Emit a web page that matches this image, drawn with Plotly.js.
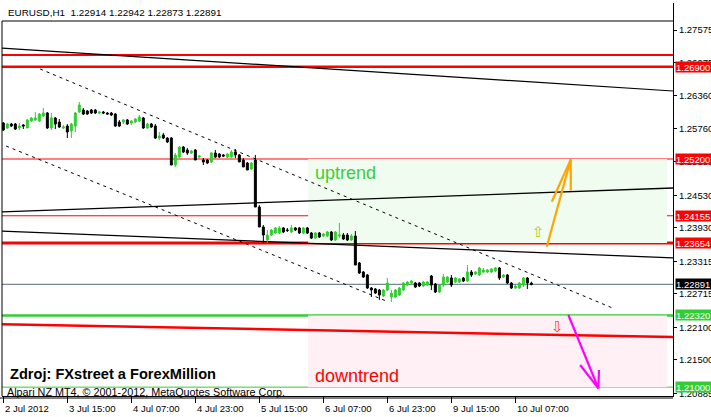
<!DOCTYPE html>
<html><head><meta charset="utf-8">
<script src="https://cdn.plot.ly/plotly-3.0.1.min.js"></script>
<style>html,body{margin:0;padding:0;background:#fff;}#chart{width:711px;height:417px;}</style>
</head><body><div id="chart"></div>
<script>
// ---- data (EURUSD H1) ----
const barIndex = Array.from({length:133}, (_, i) => i);
const open = [
1.25863,1.25771,1.25844,1.25844,1.25771,1.25826,1.25771,1.25899,1.25918,1.25899,
1.25991,1.26047,1.25771,1.25955,1.25881,1.25771,1.25807,1.25715,1.25807,1.26065,
1.26102,1.26084,1.26102,1.26102,1.26047,1.26065,1.26047,1.26047,1.26028,1.25881,
1.25881,1.25918,1.25863,1.25881,1.25899,1.25955,1.25771,1.25844,1.25807,1.25586,
1.25642,1.25586,1.25586,1.25089,1.25237,1.25421,1.25366,1.25310,1.25366,1.25237,
1.25181,1.25181,1.25145,1.25310,1.25292,1.25274,1.25237,1.25237,1.25329,1.25274,
1.25181,1.25126,1.25016,1.25181,1.24316,1.23948,1.23709,1.23801,1.23838,1.23838,
1.23930,1.23893,1.23856,1.23930,1.23930,1.23838,1.23930,1.23838,1.23745,1.23838,
1.23782,1.23782,1.23856,1.23709,1.23782,1.23801,1.23801,1.23709,1.23782,1.23285,
1.23120,1.23064,1.22825,1.22807,1.22788,1.22678,1.22788,1.22659,1.22659,1.22696,
1.22788,1.22880,1.22917,1.22917,1.22917,1.22862,1.22880,1.23046,1.22899,1.22751,
1.22880,1.22935,1.23009,1.22935,1.22935,1.23009,1.22954,1.23120,1.23083,1.23064,
1.23120,1.23120,1.23120,1.23138,1.23193,1.23027,1.23064,1.22917,1.22825,1.22825,
1.22880,1.23009,1.22914];
const high = [
1.25881,1.25863,1.25863,1.25863,1.25863,1.25844,1.25936,1.25973,1.26065,1.26047,
1.26139,1.26065,1.26047,1.25973,1.25936,1.25826,1.25844,1.25863,1.26065,1.26249,
1.26139,1.26102,1.26120,1.26120,1.26084,1.26084,1.26065,1.26065,1.26047,1.25918,
1.25936,1.25936,1.25918,1.25955,1.26010,1.25973,1.25863,1.25863,1.25844,1.25697,
1.25679,1.25605,1.25605,1.25310,1.25439,1.25439,1.25402,1.25366,1.25384,1.25274,
1.25218,1.25200,1.25329,1.25366,1.25310,1.25292,1.25310,1.25366,1.25384,1.25292,
1.25218,1.25145,1.25145,1.25274,1.24353,1.23985,1.23893,1.23911,1.23948,1.23966,
1.23948,1.23930,1.23985,1.23948,1.23948,1.23948,1.23948,1.23856,1.23856,1.23856,
1.23838,1.23874,1.23874,1.23874,1.24022,1.23838,1.23838,1.23819,1.23874,1.23304,
1.23138,1.23083,1.22843,1.22825,1.22807,1.22807,1.23009,1.22788,1.22807,1.22843,
1.22935,1.22954,1.22972,1.22935,1.22935,1.22954,1.22954,1.23064,1.22917,1.22899,
1.23083,1.23046,1.23064,1.23027,1.23009,1.23027,1.23248,1.23156,1.23138,1.23212,
1.23193,1.23175,1.23193,1.23212,1.23212,1.23083,1.23083,1.22935,1.22880,1.22935,
1.23027,1.23027,1.22942];
const low = [
1.25715,1.25752,1.25789,1.25734,1.25734,1.25752,1.25771,1.25881,1.25899,1.25881,
1.25973,1.25752,1.25734,1.25752,1.25771,1.25752,1.25586,1.25586,1.25697,1.26047,
1.26010,1.26010,1.26028,1.26028,1.26028,1.26028,1.26010,1.25991,1.25789,1.25789,
1.25844,1.25826,1.25826,1.25863,1.25881,1.25752,1.25752,1.25771,1.25568,1.25550,
1.25568,1.25494,1.25089,1.25053,1.25218,1.25310,1.25274,1.25292,1.25181,1.25218,
1.25089,1.25108,1.25126,1.25218,1.25218,1.25237,1.25218,1.25218,1.25218,1.25145,
1.25053,1.24997,1.24997,1.24316,1.23948,1.23653,1.23653,1.23782,1.23819,1.23819,
1.23838,1.23856,1.23838,1.23874,1.23819,1.23819,1.23819,1.23727,1.23727,1.23745,
1.23764,1.23764,1.23690,1.23690,1.23745,1.23709,1.23690,1.23690,1.23248,1.23083,
1.23009,1.22807,1.22659,1.22715,1.22604,1.22659,1.22770,1.22567,1.22641,1.22678,
1.22770,1.22862,1.22899,1.22825,1.22843,1.22843,1.22862,1.22788,1.22733,1.22733,
1.22843,1.22917,1.22843,1.22917,1.22917,1.22935,1.22935,1.23027,1.23064,1.23046,
1.23101,1.23101,1.23101,1.23120,1.22972,1.23009,1.22899,1.22807,1.22807,1.22807,
1.22843,1.22807,1.22873];
const close = [
1.25734,1.25844,1.25807,1.25752,1.25807,1.25807,1.25918,1.25955,1.25955,1.26028,
1.26047,1.25771,1.25955,1.25844,1.25789,1.25789,1.25697,1.25844,1.26047,1.26194,
1.26028,1.26028,1.26047,1.26047,1.26065,1.26047,1.26028,1.26010,1.25807,1.25807,
1.25918,1.25844,1.25899,1.25936,1.25973,1.25771,1.25844,1.25789,1.25586,1.25623,
1.25586,1.25513,1.25089,1.25274,1.25421,1.25329,1.25310,1.25347,1.25181,1.25255,
1.25145,1.25126,1.25310,1.25237,1.25237,1.25255,1.25292,1.25329,1.25274,1.25145,
1.25053,1.24997,1.25126,1.24316,1.23948,1.23801,1.23801,1.23893,1.23930,1.23930,
1.23856,1.23885,1.23930,1.23893,1.23838,1.23930,1.23838,1.23745,1.23838,1.23764,
1.23819,1.23856,1.23709,1.23856,1.23801,1.23727,1.23709,1.23782,1.23248,1.23101,
1.23027,1.22825,1.22788,1.22733,1.22696,1.22788,1.22917,1.22733,1.22788,1.22825,
1.22917,1.22935,1.22954,1.22843,1.22862,1.22935,1.22935,1.22880,1.22751,1.22880,
1.23027,1.23027,1.22880,1.23009,1.22991,1.22954,1.23120,1.23064,1.23120,1.23193,
1.23156,1.23156,1.23175,1.23193,1.23009,1.23064,1.22917,1.22825,1.22862,1.22917,
1.23009,1.22917,1.22891];

const timeTickBars = [0,16,32,48,64,80,96,112,128];
const timeTickLabels = ['2 Jul 2012','3 Jul 15:00','4 Jul 07:00','4 Jul 23:00','5 Jul 15:00','6 Jul 07:00','6 Jul 23:00','9 Jul 15:00','10 Jul 07:00'];
const priceTicks = [1.27575,1.26975,1.26360,1.25760,1.25155,1.24530,1.23930,1.23315,1.22715,1.22100,1.21500,1.20885];
const priceTickLabels = ['1.27575','1.26975','1.26360','1.25760','1.25155','1.24530','1.23930','1.23315','1.22715','1.22100','1.21500','1.20885'];
const levelPrices = [1.26900,1.25200,1.24155,1.23654,1.22891,1.22320,1.21000];
const levelLabels = ['1.26900','1.25200','1.24155','1.23654','1.22891','1.22320','1.21000'];
const levelColors = ['#ff0000','#ff0000','#ff0000','#ff0000','#000000','#32cd32','#32cd32'];
const levelLineColors = ['#ff0000','#ff0000','#ff0000','#ff0000','#778899','#32cd32','#32cd32'];
const levelLineWidths = [2.5,1,1,3,1.2,2.5,1];
const quoteTitle = 'EURUSD,H1  1.22914 1.22942 1.22873 1.22891';

// ---- layout helpers (pixel geometry of plot area) ----
const PL = 2, PR = 673, PT = 3, PB = 396;
const W = PR - PL, H = PB - PT;
const px = x => (x - PL) / W;
const py = y => (PB - y) / H;
const XR = [-0.33, 167.4];
const YR = [1.20837, 1.28072];

const shapes = [];
const annotations = [];

// zones
shapes.push({type:'rect', xref:'x', yref:'y', x0:76.2, x1:165.9, y0:1.23654, y1:1.25200, fillcolor:'#f0fcf0', line:{width:0}, layer:'below'});
shapes.push({type:'rect', xref:'x', yref:'y', x0:76.2, x1:165.9, y0:1.21000, y1:1.22320, fillcolor:'#fff0f5', line:{width:0}, layer:'below'});

// horizontal levels
levelPrices.forEach((p, i) => {
  shapes.push({type:'line', xref:'paper', yref:'y', x0:0, x1:1, y0:p, y1:p, line:{color:levelLineColors[i], width:levelLineWidths[i]}, layer:'below'});
});
// extra red level near top
shapes.push({type:'line', xref:'paper', yref:'y', x0:0, x1:1, y0:1.27114, y1:1.27114, line:{color:'#ff0000', width:2}, layer:'below'});

// trend lines
const tl = (x0,y0,x1,y1,color,width,dash) => shapes.push({type:'line', xref:'x', yref:'y', x0, y0, x1, y1, line:{color, width, dash:dash||'solid'}, layer:'below'});
tl(-0.33,1.27243,167.4,1.26452,'#000',1.2);
tl(-0.33,1.24228,167.4,1.24666,'#000',1.3);
tl(-0.33,1.23874,167.4,1.23379,'#000',1.3);
tl(-0.33,1.22157,167.4,1.21923,'#ff0000',2.5);
tl(9.2,1.26857,152.9,1.22438,'#000',1,'3px,4px');
tl(0.7,1.25439,95.7,1.22586,'#000',1,'3px,4px');

// arrows drawn as line objects
const ar = (x0,y0,x1,y1,color) => shapes.push({type:'line', xref:'x', yref:'y', x0, y0, x1, y1, line:{color, width:2.2}});
ar(135.85,1.23585,141.85,1.25194,'#ffa500');
ar(141.85,1.25194,137.1,1.24414,'#ffa500');
ar(141.85,1.25194,141.85,1.24617,'#ffa500');
ar(141.25,1.22328,148.75,1.20978,'#ff00ff');
ar(148.75,1.20978,144.2,1.21407,'#ff00ff');
ar(148.75,1.20978,148.9,1.21315,'#ff00ff');

// frame: top edge below the title row, left edge, double bottom line
shapes.push({type:'line', xref:'paper', yref:'paper', x0:0, x1:1, y0:py(21), y1:py(21), line:{color:'#000', width:1}});
shapes.push({type:'line', xref:'paper', yref:'paper', x0:0, x1:0, y0:0, y1:py(21), line:{color:'#000', width:1}});
shapes.push({type:'line', xref:'paper', yref:'paper', x0:-0.01, x1:1, y0:-2/H, y1:-2/H, line:{color:'#000', width:1}});

// price tags on the right
levelPrices.forEach((p, i) => {
  annotations.push({xref:'paper', yref:'y', x:1, y:p, xanchor:'left', yanchor:'middle', xshift:2, text:levelLabels[i],
    showarrow:false, bgcolor:levelColors[i], font:{family:'Liberation Sans', size:9.5, color:'#fff'}, width:36, height:10, align:'left', borderpad:0});
});
// time labels
timeTickBars.forEach((b, i) => {
  annotations.push({xref:'x', yref:'paper', x:b, y:py(408), xanchor:'left', yanchor:'middle', xshift:0, text:timeTickLabels[i], showarrow:false,
    font:{family:'Liberation Sans', size:9.5, color:'#000'}});
});
// texts
const txt = (x,y,text,font,ya) => annotations.push({xref:'paper', yref:'paper', x:px(x), y:py(y), xanchor:'left', yanchor:ya||'middle', text, showarrow:false, font});
txt(6, 12, quoteTitle, {family:'Liberation Sans', size:9.9, color:'#000'});
txt(313, 173, 'uptrend', {family:'Liberation Sans', size:18, color:'#3ccc3c'});
txt(313, 376, 'downtrend', {family:'Liberation Sans', size:18, color:'#ff0000'});
txt(8, 374, '<b>Zdroj: FXstreet a ForexMillion</b>', {family:'Liberation Sans', size:14.6, color:'#000'});
txt(5, 392, 'Alpari NZ MT4, © 2001-2012, MetaQuotes Software Corp.', {family:'Liberation Sans', size:10.8, color:'#000'});
// hollow arrow symbols
annotations.push({xref:'x', yref:'y', x:133.7, y:1.23856, text:'⇧', showarrow:false, font:{family:'DejaVu Sans', size:15, color:'#b0c800'}});
annotations.push({xref:'x', yref:'y', x:138.55, y:1.22116, text:'⇩', showarrow:false, font:{family:'DejaVu Sans', size:15, color:'#ff4020'}});

const trace = {
  type:'candlestick', x:barIndex, open, high, low, close,
  increasing:{line:{color:'#32cd32', width:1}, fillcolor:'#32cd32'},
  decreasing:{line:{color:'#000000', width:1}, fillcolor:'#000000'},
  whiskerwidth:0, hoverinfo:'skip', showlegend:false
};

const layout = {
  width:711, height:417,
  margin:{l:PL, r:711-PR, t:PT, b:417-PB},
  paper_bgcolor:'#fff', plot_bgcolor:'#fff',
  font:{family:'Liberation Sans', size:9.5, color:'#000'},
  showlegend:false,
  xaxis:{range:XR, fixedrange:true, rangeslider:{visible:false}, showgrid:false, zeroline:false,
    showline:true, linecolor:'#000', linewidth:1, mirror:false,
    tickmode:'array', tickvals:timeTickBars, ticktext:timeTickLabels, showticklabels:false,
    ticks:'outside', ticklen:6, tickcolor:'#000'},
  yaxis:{range:YR, side:'right', fixedrange:true, showgrid:false, zeroline:false,
    showline:true, linecolor:'#000', linewidth:1, mirror:false,
    tickmode:'array', tickvals:priceTicks, ticktext:priceTickLabels,
    ticks:'outside', ticklen:3, tickcolor:'#000', tickfont:{family:'Liberation Sans', size:9.5, color:'#000'}},
  shapes, annotations
};
Plotly.newPlot('chart', [trace], layout, {staticPlot:true, displayModeBar:false});
</script></body></html>
